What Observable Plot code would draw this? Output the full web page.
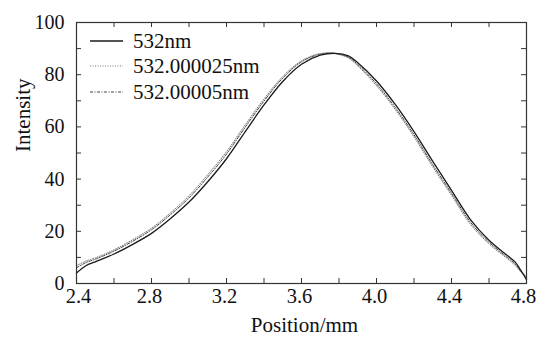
<!DOCTYPE html>
<html>
<head>
<meta charset="utf-8">
<script src="https://cdn.jsdelivr.net/npm/d3@7"></script>
<script src="https://cdn.jsdelivr.net/npm/@observablehq/plot@0.6"></script>
<style>
  html, body { margin: 0; padding: 0; background: #fff; }
  #wrap { position: relative; width: 536px; height: 342px; font-family: "Liberation Serif", "Times New Roman", serif; }
  #legend { position: absolute; left: 0; top: 0; pointer-events: none; }
</style>
</head>
<body>
<div id="wrap"></div>
<script>
// Data
const positions = [2.40,2.45,2.50,2.60,2.70,2.80,2.90,3.00,3.10,3.20,3.30,3.40,3.50,3.60,3.70,3.78,3.85,3.90,4.00,4.10,4.20,4.30,4.40,4.50,4.60,4.70,4.74,4.77,4.80];
const intensity532 = [4.0,6.8,8.3,11.3,15.0,19.2,24.8,31.2,39.0,47.8,58.2,68.4,77.4,84.0,87.5,88.2,87.2,84.6,77.6,68.6,58.2,46.8,35.7,24.6,16.6,10.6,8.2,5.0,1.5];
const intensity532_000025 = [6.8,8.6,9.8,12.9,16.8,21.2,27.0,33.6,41.7,50.5,60.8,70.7,79.3,85.3,88.1,88.0,86.4,83.4,75.8,66.7,56.2,44.7,33.8,22.8,15.2,9.4,6.9,4.4,2.6];
const intensity532_00005 = [6.0,8.0,9.3,12.4,16.2,20.6,26.3,32.8,40.8,49.6,59.9,69.9,78.7,84.9,87.9,88.1,86.7,83.9,76.5,67.4,57.0,45.5,34.6,23.6,15.8,9.9,7.5,4.7,2.2];
const seriesNames = ["532nm", "532.000025nm", "532.00005nm"];
const xTitle = "Position/mm";
const yTitle = "Intensity";
const xTickLabels = [2.4, 2.8, 3.2, 3.6, 4.0, 4.4, 4.8];
const xMinorTicks = [2.4,2.6,2.8,3.0,3.2,3.4,3.6,3.8,4.0,4.2,4.4,4.6,4.8];
const yTickLabels = [0, 20, 40, 60, 80, 100];
const yMinorTicks = [0,10,20,30,40,50,60,70,80,90,100];

const toRows = (vals) => positions.map((x, i) => ({x, y: vals[i]}));
const solid = toRows(intensity532);
const dotted = toRows(intensity532_000025);
const dashdot = toRows(intensity532_00005);

const W = 536, H = 342, ML = 76, MR = 10, MT = 22, MB = 59;
const plotW = W - ML - MR, plotH = H - MT - MB, tickLen = 5;
const FONT = '"Liberation Serif", "Times New Roman", serif';
const fmt = d => d.toFixed(1);
const firstX = xTickLabels[0], lastX = xTickLabels[xTickLabels.length - 1];
const midX = xTickLabels.slice(1, -1);

const chart = Plot.plot({
  width: W, height: H,
  marginLeft: ML, marginRight: MR, marginTop: MT, marginBottom: MB,
  style: { fontFamily: FONT, fontSize: "20px", background: "#fff", color: "#111" },
  x: { domain: [2.4, 4.8] },
  y: { domain: [0, 100] },
  marks: [
    Plot.line(dashdot, {x: "x", y: "y", curve: "catmull-rom", stroke: "#444", strokeWidth: 1, strokeDasharray: "3,1.5,1,1.5"}),
    Plot.line(dotted, {x: "x", y: "y", curve: "catmull-rom", stroke: "#777", strokeWidth: 1, strokeDasharray: "1,1.5"}),
    Plot.line(solid, {x: "x", y: "y", curve: "catmull-rom", stroke: "#1a1a1a", strokeWidth: 1.3}),
    Plot.tickX(xMinorTicks, {x: d => d, insetTop: plotH - tickLen, stroke: "#333"}),
    Plot.tickX(xMinorTicks, {x: d => d, insetBottom: plotH - tickLen, stroke: "#333"}),
    Plot.tickY(yMinorTicks, {y: d => d, insetRight: plotW - tickLen, stroke: "#333"}),
    Plot.tickY(yMinorTicks, {y: d => d, insetLeft: plotW - tickLen, stroke: "#333"}),
    Plot.axisX({ticks: midX, tickFormat: fmt, tickSize: 0, tickPadding: 5, dx: -2, fontSize: 20.5, label: null}),
    Plot.axisX({ticks: [firstX], tickFormat: fmt, tickSize: 0, tickPadding: 5, dx: 2, fontSize: 20.5, label: null}),
    Plot.axisX({ticks: [lastX], tickFormat: fmt, tickSize: 0, tickPadding: 5, dx: -3, fontSize: 20.5, label: null}),
    Plot.axisY({ticks: yTickLabels, tickSize: 0, tickPadding: 12, fontSize: 20, label: null}),
    Plot.text([xTitle], {text: d => d, frameAnchor: "bottom", dx: 3, dy: 48, fontSize: 21, fill: "#111"}),
    Plot.text([yTitle], {text: d => d, frameAnchor: "left", dx: -53, dy: -1, rotate: -90, fontSize: 21, fill: "#111"}),
    Plot.frame({stroke: "#333", strokeWidth: 1.2})
  ]
});
const wrap = document.getElementById("wrap");
wrap.appendChild(chart);

// Legend (inside the frame, top-left)
const ns = "http://www.w3.org/2000/svg";
const leg = document.createElementNS(ns, "svg");
leg.setAttribute("id", "legend");
leg.setAttribute("width", W); leg.setAttribute("height", 120);
const styles = [
  {stroke: "#1a1a1a", w: 1.3, dash: null},
  {stroke: "#777", w: 1, dash: "1,1.5"},
  {stroke: "#444", w: 1, dash: "3,1.5,1,1.5"}
];
const rowY = [41, 66, 92];
seriesNames.forEach((name, i) => {
  const l = document.createElementNS(ns, "line");
  l.setAttribute("x1", 90); l.setAttribute("x2", 123);
  l.setAttribute("y1", rowY[i]); l.setAttribute("y2", rowY[i]);
  l.setAttribute("stroke", styles[i].stroke);
  l.setAttribute("stroke-width", styles[i].w);
  if (styles[i].dash) l.setAttribute("stroke-dasharray", styles[i].dash);
  leg.appendChild(l);
  const t = document.createElementNS(ns, "text");
  t.setAttribute("x", 133); t.setAttribute("y", rowY[i]);
  t.setAttribute("dy", "0.35em");
  t.setAttribute("font-family", FONT);
  t.setAttribute("font-size", "21px");
  t.setAttribute("fill", "#111");
  t.textContent = name;
  leg.appendChild(t);
});
wrap.appendChild(leg);
</script>
</body>
</html>
